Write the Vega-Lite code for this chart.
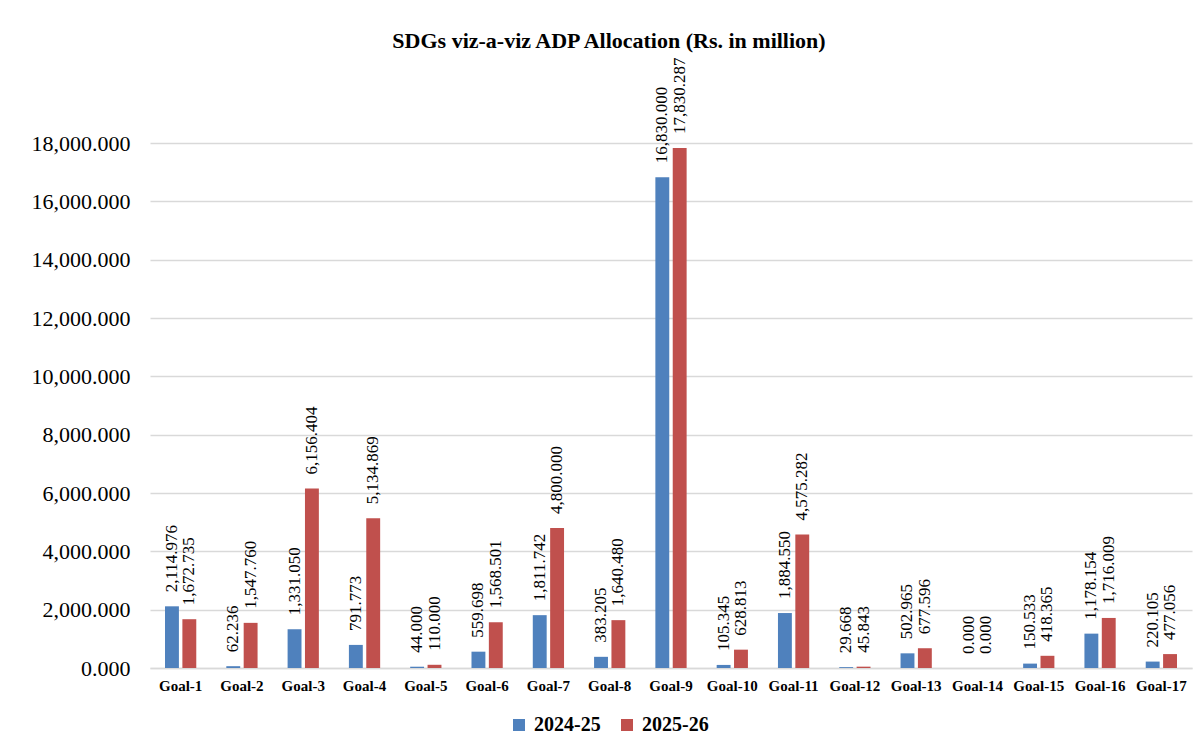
{
  "$schema": "https://vega.github.io/schema/vega-lite/v6.json",
  "width": 1042,
  "height": 525,
  "autosize": {"type": "none"},
  "padding": {"left": 150, "top": 143, "right": 7, "bottom": 85},
  "background": "white",
  "title": {
    "text": "SDGs viz-a-viz ADP Allocation (Rs. in million)",
    "font": "Liberation Serif",
    "fontSize": 22,
    "fontWeight": "bold",
    "color": "#000000",
    "anchor": "middle",
    "dx": -62,
    "offset": 4
  },
  "data": {
    "values": [
      {"goal": "Goal-1", "year": "2024-25", "value": 2114.976},
      {"goal": "Goal-1", "year": "2025-26", "value": 1672.735},
      {"goal": "Goal-2", "year": "2024-25", "value": 62.236},
      {"goal": "Goal-2", "year": "2025-26", "value": 1547.760},
      {"goal": "Goal-3", "year": "2024-25", "value": 1331.050},
      {"goal": "Goal-3", "year": "2025-26", "value": 6156.404},
      {"goal": "Goal-4", "year": "2024-25", "value": 791.773},
      {"goal": "Goal-4", "year": "2025-26", "value": 5134.869},
      {"goal": "Goal-5", "year": "2024-25", "value": 44.000},
      {"goal": "Goal-5", "year": "2025-26", "value": 110.000},
      {"goal": "Goal-6", "year": "2024-25", "value": 559.698},
      {"goal": "Goal-6", "year": "2025-26", "value": 1568.501},
      {"goal": "Goal-7", "year": "2024-25", "value": 1811.742},
      {"goal": "Goal-7", "year": "2025-26", "value": 4800.000},
      {"goal": "Goal-8", "year": "2024-25", "value": 383.205},
      {"goal": "Goal-8", "year": "2025-26", "value": 1640.480},
      {"goal": "Goal-9", "year": "2024-25", "value": 16830.000},
      {"goal": "Goal-9", "year": "2025-26", "value": 17830.287},
      {"goal": "Goal-10", "year": "2024-25", "value": 105.345},
      {"goal": "Goal-10", "year": "2025-26", "value": 628.813},
      {"goal": "Goal-11", "year": "2024-25", "value": 1884.550},
      {"goal": "Goal-11", "year": "2025-26", "value": 4575.282},
      {"goal": "Goal-12", "year": "2024-25", "value": 29.668},
      {"goal": "Goal-12", "year": "2025-26", "value": 45.843},
      {"goal": "Goal-13", "year": "2024-25", "value": 502.965},
      {"goal": "Goal-13", "year": "2025-26", "value": 677.596},
      {"goal": "Goal-14", "year": "2024-25", "value": 0.000},
      {"goal": "Goal-14", "year": "2025-26", "value": 0.000},
      {"goal": "Goal-15", "year": "2024-25", "value": 150.533},
      {"goal": "Goal-15", "year": "2025-26", "value": 418.365},
      {"goal": "Goal-16", "year": "2024-25", "value": 1178.154},
      {"goal": "Goal-16", "year": "2025-26", "value": 1716.009},
      {"goal": "Goal-17", "year": "2024-25", "value": 220.105},
      {"goal": "Goal-17", "year": "2025-26", "value": 477.056}
    ]
  },
  "encoding": {
    "x": {
      "field": "goal",
      "type": "nominal",
      "sort": null,
      "scale": {"paddingInner": 0.49, "paddingOuter": 0.245},
      "axis": {
        "title": null,
        "labelAngle": 0,
        "labelFont": "Liberation Serif",
        "labelFontSize": 15,
        "labelFontWeight": "bold",
        "labelColor": "#000000",
        "labelPadding": 10,
        "labelOverlap": false,
        "ticks": false,
        "domainColor": "#D9D9D9",
        "domainWidth": 1.5,
        "grid": false
      }
    },
    "xOffset": {
      "field": "year",
      "type": "nominal",
      "scale": {"paddingInner": 0.2, "paddingOuter": 0}
    },
    "y": {
      "field": "value",
      "type": "quantitative",
      "scale": {"domain": [0, 18000], "nice": false},
      "axis": {
        "title": null,
        "format": ",.3f",
        "values": [0, 2000, 4000, 6000, 8000, 10000, 12000, 14000, 16000, 18000],
        "labelOverlap": false,
        "labelFont": "Liberation Serif",
        "labelFontSize": 22,
        "labelColor": "#000000",
        "labelPadding": 20,
        "ticks": false,
        "domain": false,
        "gridColor": "#D9D9D9",
        "gridWidth": 1.5
      }
    }
  },
  "layer": [
    {
      "mark": {"type": "bar"},
      "encoding": {
        "color": {
          "field": "year",
          "type": "nominal",
          "scale": {"domain": ["2024-25", "2025-26"], "range": ["#4F81BD", "#C0504D"]},
          "legend": {
            "title": null,
            "orient": "none",
            "direction": "horizontal",
            "legendX": 359,
            "legendY": 572,
            "symbolType": "square",
            "symbolSize": 144,
            "symbolStrokeWidth": 0,
            "labelFont": "Liberation Serif",
            "labelFontSize": 20,
            "labelFontWeight": "bold",
            "labelColor": "#000000",
            "labelOffset": 5,
            "columnPadding": 16,
            "padding": 0
          }
        }
      }
    },
    {
      "mark": {
        "type": "text",
        "angle": -90,
        "align": "left",
        "baseline": "middle",
        "dx": 14,
        "font": "Liberation Serif",
        "fontSize": 17,
        "color": "#000000",
        "clip": false
      },
      "encoding": {
        "text": {"field": "value", "type": "quantitative", "format": ",.3f"}
      }
    }
  ],
  "config": {
    "view": {"stroke": null}
  }
}
